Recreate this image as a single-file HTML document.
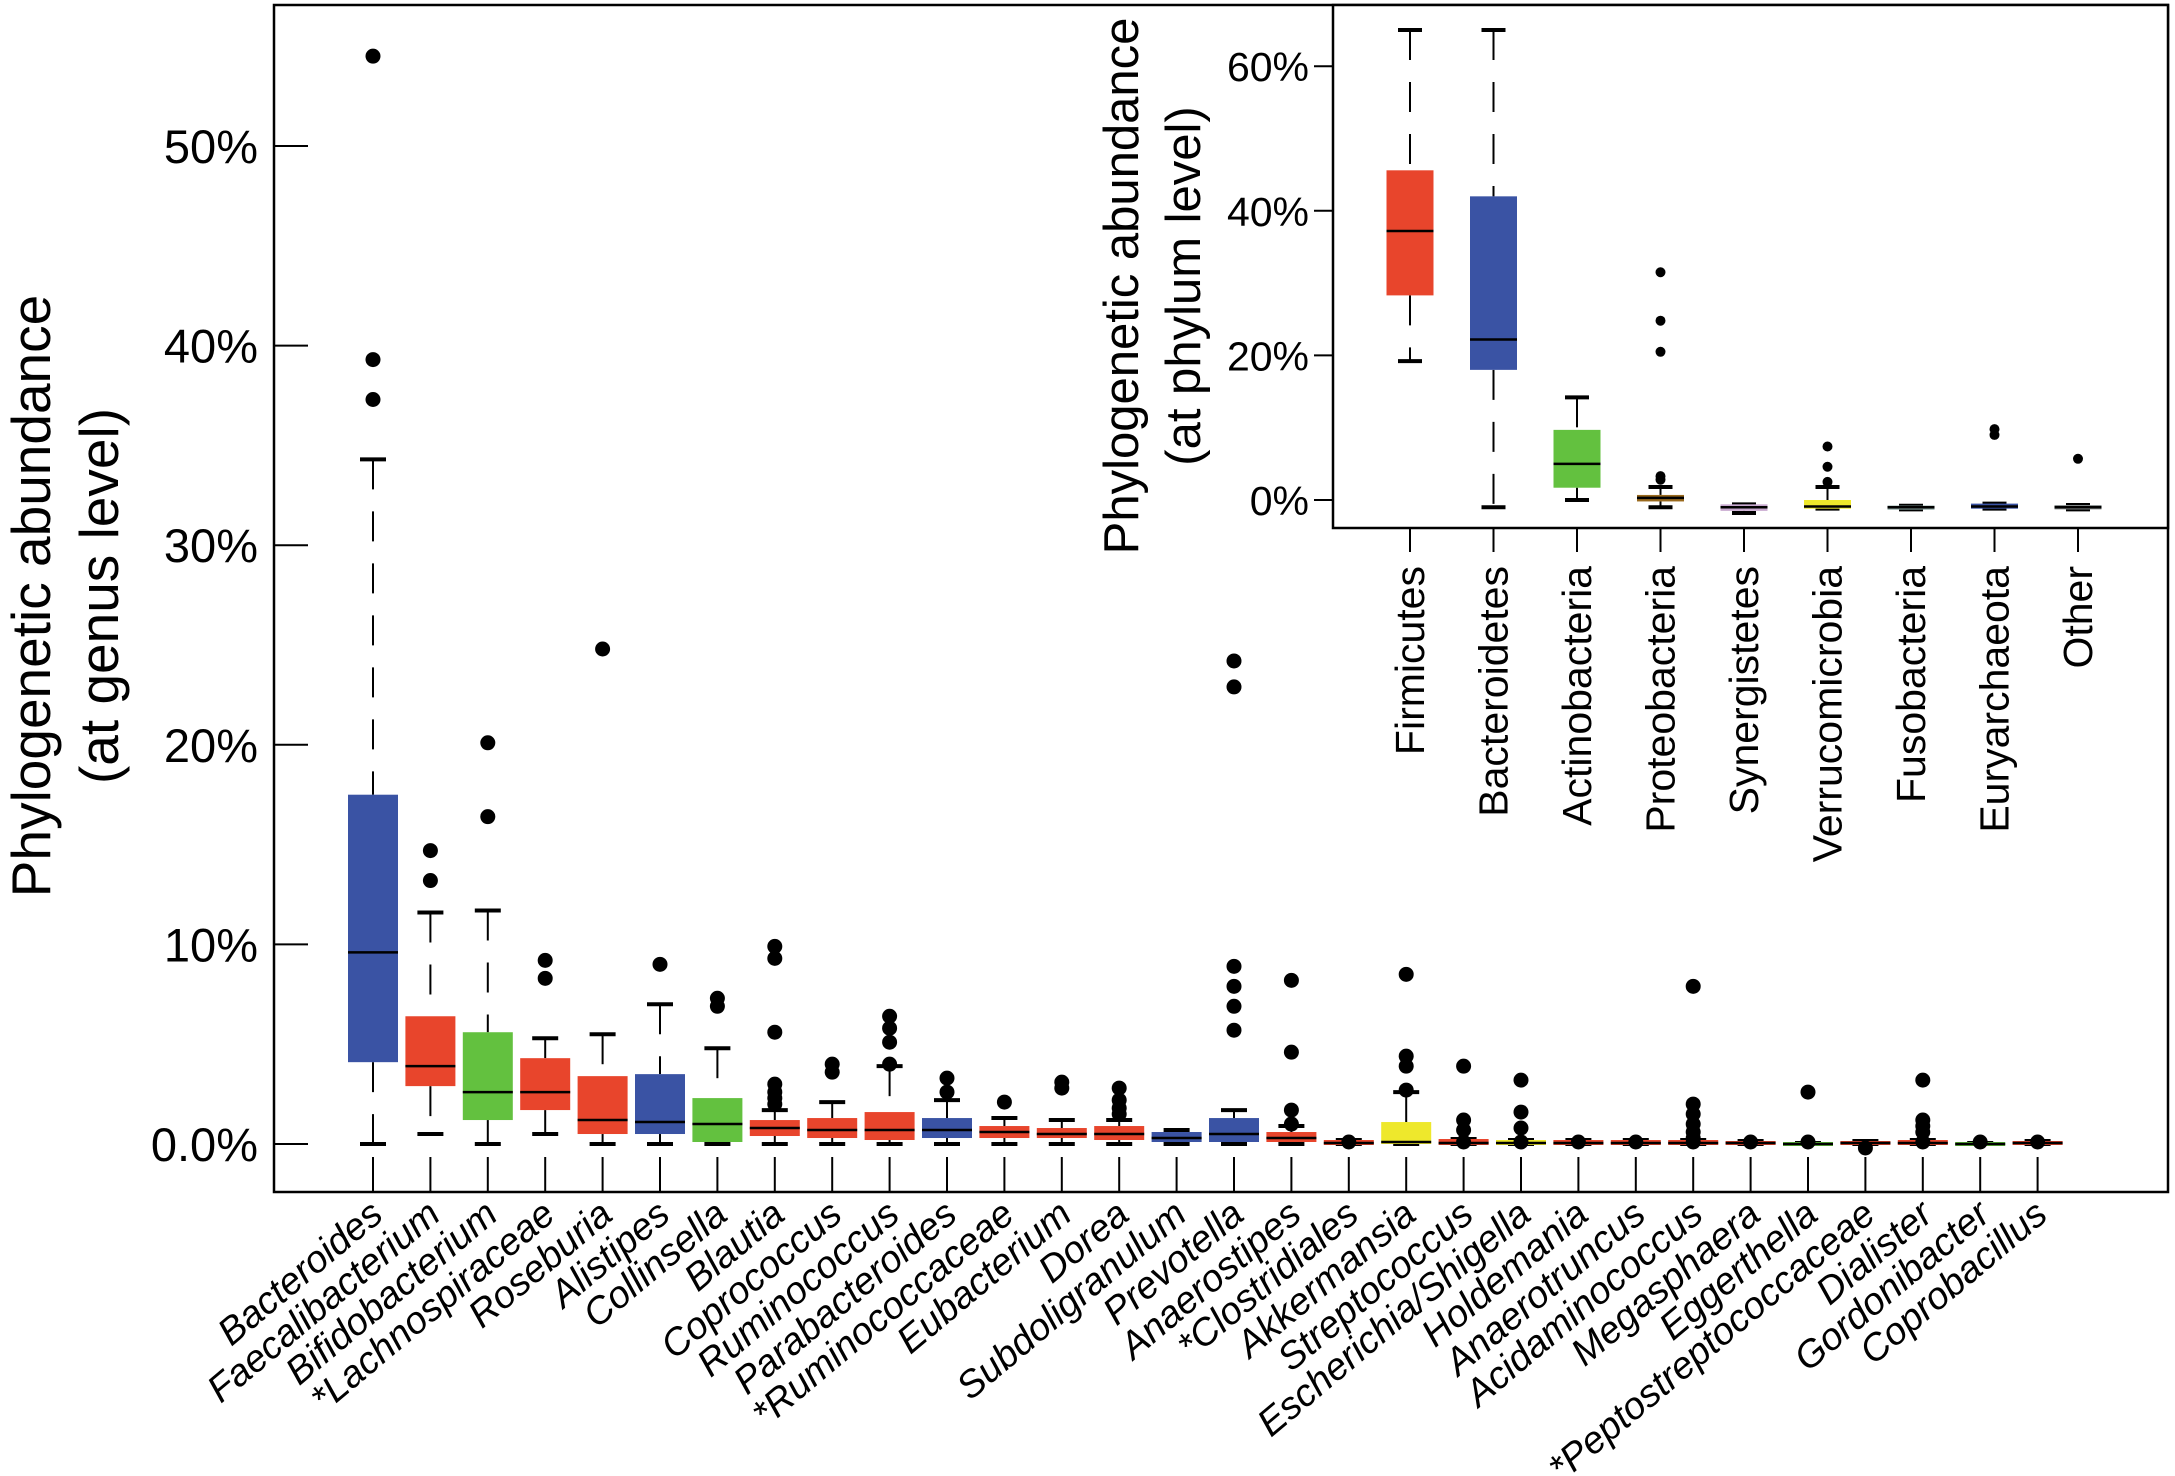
<!DOCTYPE html>
<html><head><meta charset="utf-8">
<style>
html,body{margin:0;padding:0;background:#fff;}
svg{display:block;}
text{font-family:"Liberation Sans",sans-serif;fill:#000;}
</style></head>
<body>
<svg id="chart" width="2175" height="1476" viewBox="0 0 2175 1476" xmlns="http://www.w3.org/2000/svg">
<rect x="274" y="5" width="1894" height="1187" fill="none" stroke="#000" stroke-width="2.5"/>
<text transform="translate(50,596) rotate(-90)" text-anchor="middle" font-size="55">Phylogenetic abundance</text>
<text transform="translate(118,596) rotate(-90)" text-anchor="middle" font-size="55">(at genus level)</text>
<rect x="1333" y="5" width="835" height="523" fill="#fff" stroke="#000" stroke-width="2.5"/>
<text transform="translate(1138,286) rotate(-90)" text-anchor="middle" font-size="49">Phylogenetic abundance</text>
<text transform="translate(1200,286) rotate(-90)" text-anchor="middle" font-size="49">(at phylum level)</text>
<g id="main"></g>
<g id="inset"></g>
</svg>
<script>
// ---- genus-level data (percent) ----
const genusNames = ["Bacteroides","Faecalibacterium","Bifidobacterium","*Lachnospiraceae","Roseburia","Alistipes","Collinsella","Blautia","Coprococcus","Ruminococcus","Parabacteroides","*Ruminococcaceae","Eubacterium","Dorea","Subdoligranulum","Prevotella","Anaerostipes","*Clostridiales","Akkermansia","Streptococcus","Escherichia/Shigella","Holdemania","Anaerotruncus","Acidaminococcus","Megasphaera","Eggerthella","*Peptostreptococcaceae","Dialister","Gordonibacter","Coprobacillus"];
const genusPhylum = ["B","F","A","F","F","B","A","F","F","F","B","F","F","F","B","B","F","F","V","F","V","F","F","F","F","A","F","F","A","F"];
const genusQ1 = [4.1,2.9,1.2,1.7,0.5,0.5,0.1,0.4,0.3,0.2,0.3,0.3,0.3,0.2,0.1,0.1,0.1,-0.05,0,-0.05,-0.05,-0.05,-0.05,-0.05,-0.05,-0.05,-0.05,-0.05,-0.05,-0.05];
const genusMed = [9.6,3.9,2.6,2.6,1.2,1.1,1.0,0.8,0.7,0.7,0.7,0.6,0.5,0.5,0.3,0.5,0.3,0.05,0.1,0.05,0.05,0.05,0.05,0.05,0.05,0.0,0.05,0.05,0.0,0.05];
const genusQ3 = [17.5,6.4,5.6,4.3,3.4,3.5,2.3,1.2,1.3,1.6,1.3,0.9,0.8,0.9,0.6,1.3,0.6,0.2,1.1,0.25,0.2,0.2,0.2,0.2,0.15,0.05,0.15,0.2,0.05,0.15];
const genusWLo = [0,0.5,0,0.5,0,0,0,0,0,0,0,0,0,0,0,0,0,0,0,0,0,0,0,0,0,0,0,0,0,0];
const genusWHi = [34.3,11.6,11.7,5.3,5.5,7.0,4.8,1.7,2.1,3.9,2.2,1.3,1.2,1.2,0.7,1.7,0.9,0.2,2.6,0.25,0.2,0.2,0.2,0.2,0.15,0.05,0.15,0.2,0.05,0.15];
const genusOut = [[37.3,39.3,54.5],[13.2,14.7],[16.4,20.1],[8.3,9.2],[24.8],[9.0],[6.9,7.3],[2.0,2.3,2.6,3.0,5.6,9.3,9.9],[3.6,4.0],[4.0,5.1,5.8,6.4],[2.6,3.3],[2.1],[2.8,3.1],[1.5,1.8,2.2,2.8],[],[5.7,6.9,7.9,8.9,22.9,24.2],[1.0,1.7,4.6,8.2],[0.1],[2.7,3.9,4.4,8.5],[0.1,0.7,1.2,3.9],[0.1,0.8,1.6,3.2],[0.1],[0.1],[0.1,0.3,0.6,1.0,1.5,2.0,7.9],[0.1],[0.1,2.6],[-0.2],[0.1,0.6,0.9,1.2,3.2],[0.1],[0.1]];
const genusTicks = [0,10,20,30,40,50];
const genusTickLabels = ["0.0%","10%","20%","30%","40%","50%"];

// ---- phylum-level inset data (percent) ----
const phylumNames = ["Firmicutes","Bacteroidetes","Actinobacteria","Proteobacteria","Synergistetes","Verrucomicrobia","Fusobacteria","Euryarchaeota","Other"];
const phylumQ1 = [28.3,18.0,1.7,-0.2,-1.5,-1.2,-1.3,-1.2,-1.3];
const phylumMed = [37.2,22.2,5.0,0.3,-1.0,-0.9,-1.0,-0.9,-1.0];
const phylumQ3 = [45.6,42.0,9.7,0.7,-0.6,0.0,-0.8,-0.5,-0.7];
const phylumWLo = [19.2,-1.0,0.0,-1.0,-1.8,-1.2,-1.3,-1.2,-1.3];
const phylumWHi = [65.0,65.0,14.2,1.8,-0.6,1.8,-0.8,-0.5,-0.7];
const phylumOut = [[],[],[],[2.8,3.3,20.5,24.8,31.5],[],[2.5,4.6,7.4],[],[9.0,9.8],[5.7]];
const phylumTicks = [0,20,40,60];
const phylumTickLabels = ["0%","20%","40%","60%"];

const colorMap = {F:"#e8452c",B:"#3a53a4",A:"#63c13f",V:"#eee82c"};
const phylumColors = ["#e8452c","#3a53a4","#63c13f","#9a6a1e","#c8a8cf","#eee82c","#7f9a96","#3a53a4","#8a9090"];

const NS="http://www.w3.org/2000/svg";
function mk(tag,attrs,parent){const e=document.createElementNS(NS,tag);for(const k in attrs)e.setAttribute(k,attrs[k]);parent.appendChild(e);return e;}

const yMain = v => 1144 - v*19.96;
const xMain = i => 373 + i*57.4;
const gMain = document.getElementById('main');
genusTicks.forEach((t,i)=>{
  const l=mk('line',{x1:274,x2:308,y1:yMain(t),y2:yMain(t),stroke:'#000','stroke-width':2},gMain);
  
  
  const tx=mk('text',{x:258,y:yMain(t)+17,'text-anchor':'end','font-size':47},gMain);
  tx.textContent=genusTickLabels[i];
  
  
});
function drawBox(g,x,w,cap,y,q1,md,q3,lo,hi,outs,col,r,nameBase){
  const grp=mk('g',{},g);
  
  
  if(hi>q3){const wl=mk('line',{x1:x,x2:x,y1:y(hi),y2:y(q3),stroke:'#000','stroke-width':2,'stroke-dasharray':'30,22'},grp);
    }
  if(lo<q1){const wl=mk('line',{x1:x,x2:x,y1:y(q1),y2:y(lo),stroke:'#000','stroke-width':2,'stroke-dasharray':'30,22'},grp);
    }
  const c1=mk('line',{x1:x-cap/2,x2:x+cap/2,y1:y(hi),y2:y(hi),stroke:'#000','stroke-width':4},grp);
  
  const c2=mk('line',{x1:x-cap/2,x2:x+cap/2,y1:y(lo),y2:y(lo),stroke:'#000','stroke-width':4},grp);
  
  const h=Math.max(4,y(q1)-y(q3));
  const b=mk('rect',{x:x-w/2,y:y(q3)-(h-(y(q1)-y(q3)))/2,width:w,height:h,fill:col},grp);
  
  const m=mk('line',{x1:x-w/2,x2:x+w/2,y1:y(md),y2:y(md),stroke:'#000','stroke-width':2.5},grp);
  
  outs.forEach(o=>{const c=mk('circle',{cx:x,cy:y(o),r:r,fill:'#000'},grp);
    });
}
genusNames.forEach((n,i)=>{
  const x=xMain(i);
  const tk=mk('line',{x1:x,x2:x,y1:1157,y2:1192,stroke:'#000','stroke-width':2},gMain);
  
  
  drawBox(gMain,x,50,26,yMain,genusQ1[i],genusMed[i],genusQ3[i],genusWLo[i],genusWHi[i],genusOut[i],colorMap[genusPhylum[i]],7.5,'box-'+n.replace(/[^A-Za-z]/g,'').toLowerCase());
  const t=mk('text',{transform:`translate(${x+12},${1218}) rotate(-40)`,'text-anchor':'end','font-size':38,'font-style':'italic'},gMain);
  t.textContent=n;
  
  
});

const yIn = v => 500 - v*7.23;
const xIn = i => 1410 + i*83.5;
const gIn=document.getElementById('inset');
phylumTicks.forEach((t,i)=>{
  const l=mk('line',{x1:1314,x2:1333,y1:yIn(t),y2:yIn(t),stroke:'#000','stroke-width':2},gIn);
  
  
  const tx=mk('text',{x:1309,y:yIn(t)+15,'text-anchor':'end','font-size':41},gIn);
  tx.textContent=phylumTickLabels[i];
  
  
});
phylumNames.forEach((n,i)=>{
  const x=xIn(i);
  const tk=mk('line',{x1:x,x2:x,y1:528,y2:552,stroke:'#000','stroke-width':2},gIn);
  
  
  drawBox(gIn,x,47,24,yIn,phylumQ1[i],phylumMed[i],phylumQ3[i],phylumWLo[i],phylumWHi[i],phylumOut[i],phylumColors[i],5,'inset-box-'+n.toLowerCase());
  const t=mk('text',{transform:`translate(${x+14},566) rotate(-90)`,'text-anchor':'end','font-size':41},gIn);
  t.textContent=n;
  
  
});
</script>
</body></html>
